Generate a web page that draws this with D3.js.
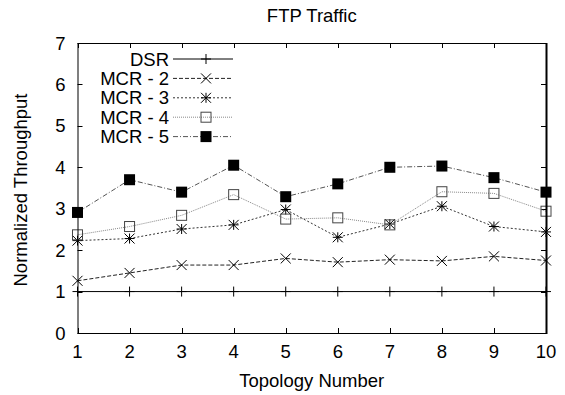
<!DOCTYPE html>
<html>
<head>
<meta charset="utf-8">
<script src="https://cdn.jsdelivr.net/npm/d3@7"></script>
<style>
  body { margin: 0; background: #fff; }
  svg { display: block; font-family: "Liberation Sans", Arial, sans-serif; }
</style>
</head>
<body>
<svg id="chart" width="565" height="395"></svg>
<script>
const topologies = [1, 2, 3, 4, 5, 6, 7, 8, 9, 10];
const yTicks = [0, 1, 2, 3, 4, 5, 6, 7];

const dsr  = [1, 1, 1, 1, 1, 1, 1, 1, 1, 1];
const mcr2 = [1.26, 1.45, 1.64, 1.64, 1.80, 1.71, 1.77, 1.74, 1.85, 1.75];
const mcr3 = [2.23, 2.28, 2.51, 2.61, 2.98, 2.31, 2.63, 3.06, 2.57, 2.44];
const mcr4 = [2.37, 2.57, 2.84, 3.34, 2.75, 2.78, 2.61, 3.41, 3.37, 2.94];
const mcr5 = [2.91, 3.70, 3.40, 4.05, 3.29, 3.60, 4.00, 4.03, 3.75, 3.40];

const seriesNames = ['DSR', 'MCR - 2', 'MCR - 3', 'MCR - 4', 'MCR - 5'];

const svg = d3.select('#chart');
const margin = { top: 43, right: 19, bottom: 62, left: 77.5 };
const W = 565, H = 395;

const x = d3.scaleLinear().domain([1, 10]).range([margin.left, W - margin.right]);
const y = d3.scaleLinear().domain([0, 7]).range([H - margin.bottom, margin.top]);

const font = '18.5px';

// series styling
const styles = [
  { stroke: '#000', dash: null, marker: 'plus' },
  { stroke: '#222', dash: '4,2', marker: 'cross' },
  { stroke: '#333', dash: '2,2', marker: 'star' },
  { stroke: '#888', dash: '1,1', marker: 'box' },
  { stroke: '#555', dash: '5,2,1,2', marker: 'fbox' }
];
const allSeries = [dsr, mcr2, mcr3, mcr4, mcr5];

// title
svg.append('text')
  .attr('x', (x.range()[0] + x.range()[1]) / 2)
  .attr('y', 21.5)
  .attr('text-anchor', 'middle')
  .style('font-size', font)
  .text('FTP Traffic');

// ticks on all four sides, pointing inward
const tickLen = 5;
const g = svg.append('g').attr('stroke', '#000').attr('stroke-width', 1);
yTicks.forEach(t => {
  const yy = Math.round(y(t)) + 0.5;
  g.append('line').attr('x1', x(1)).attr('x2', x(1) + tickLen).attr('y1', yy).attr('y2', yy);
  g.append('line').attr('x1', x(10)).attr('x2', x(10) - tickLen).attr('y1', yy).attr('y2', yy);
});
topologies.forEach(t => {
  const xx = Math.round(x(t)) + 0.5;
  g.append('line').attr('x1', xx).attr('x2', xx).attr('y1', y(0)).attr('y2', y(0) - tickLen);
  g.append('line').attr('x1', xx).attr('x2', xx).attr('y1', y(7)).attr('y2', y(7) + tickLen);
});

// tick labels
svg.append('g').selectAll('text').data(yTicks).join('text')
  .attr('x', x(1) - 12)
  .attr('y', d => y(d) + 6.5)
  .attr('text-anchor', 'end')
  .style('font-size', font)
  .text(d => d);

svg.append('g').selectAll('text').data(topologies).join('text')
  .attr('x', d => x(d))
  .attr('y', y(0) + 24.5)
  .attr('text-anchor', 'middle')
  .style('font-size', font)
  .text(d => d);

// axis titles
svg.append('text')
  .attr('x', (x.range()[0] + x.range()[1]) / 2)
  .attr('y', 387)
  .attr('text-anchor', 'middle')
  .style('font-size', font)
  .text('Topology Number');

svg.append('text')
  .attr('transform', `translate(27,${(y(0) + y(7)) / 2 + 2}) rotate(-90)`)
  .attr('text-anchor', 'middle')
  .style('font-size', font)
  .text('Normalized Throughput');

function drawMarker(sel, type, cx, cy) {
  const s = 5;
  if (type === 'plus') {
    sel.append('path').attr('d', `M${cx - s},${cy}H${cx + s}M${cx},${cy - s}V${cy + s}`)
      .attr('stroke', '#000').attr('fill', 'none');
  } else if (type === 'cross') {
    sel.append('path').attr('d', `M${cx - s},${cy - s}L${cx + s},${cy + s}M${cx - s},${cy + s}L${cx + s},${cy - s}`)
      .attr('stroke', '#000').attr('fill', 'none');
  } else if (type === 'star') {
    sel.append('path').attr('d', `M${cx - s},${cy - s}L${cx + s},${cy + s}M${cx - s},${cy + s}L${cx + s},${cy - s}M${cx - s},${cy}H${cx + s}M${cx},${cy - s}V${cy + s}`)
      .attr('stroke', '#000').attr('fill', 'none');
  } else if (type === 'box') {
    sel.append('rect').attr('x', cx - s).attr('y', cy - s).attr('width', 2 * s).attr('height', 2 * s)
      .attr('stroke', '#444').attr('fill', 'none');
  } else if (type === 'fbox') {
    sel.append('rect').attr('x', cx - s - 0.5).attr('y', cy - s - 0.5).attr('width', 2 * s + 1).attr('height', 2 * s + 1)
      .attr('fill', '#000');
  }
}

// lines and markers
const line = d3.line().x((d, i) => x(topologies[i])).y(d => y(d));
allSeries.forEach((data, k) => {
  const st = styles[k];
  const grp = svg.append('g');
  grp.append('path')
    .attr('d', line(data))
    .attr('fill', 'none')
    .attr('stroke', st.stroke)
    .attr('stroke-width', 1)
    .attr('stroke-dasharray', st.dash);
  data.forEach((v, i) => drawMarker(grp, st.marker, x(topologies[i]), y(v)));
});

// legend
const legX = 169, legY0 = 59, legDy = 19.4;
seriesNames.forEach((name, k) => {
  const st = styles[k];
  const yy = legY0 + k * legDy;
  const lg = svg.append('g');
  lg.append('text').attr('x', legX).attr('y', yy + 6.5).attr('text-anchor', 'end')
    .style('font-size', font).text(name);
  lg.append('line').attr('x1', 173).attr('x2', 233).attr('y1', yy).attr('y2', yy)
    .attr('stroke', st.stroke).attr('stroke-dasharray', st.dash);
  drawMarker(lg, st.marker, 206, yy);
});

// frame
svg.append('rect')
  .attr('x', x(1) + 0.5).attr('y', y(7) + 0.5)
  .attr('width', x(10) - x(1)).attr('height', y(0) - y(7))
  .attr('fill', 'none').attr('stroke', '#000');
svg.append('line').attr('x1', x(10) + 0.5).attr('x2', x(10) + 0.5).attr('y1', y(7)).attr('y2', y(0) + 1)
  .attr('stroke', '#000').attr('stroke-width', 2);
</script>
</body>
</html>
